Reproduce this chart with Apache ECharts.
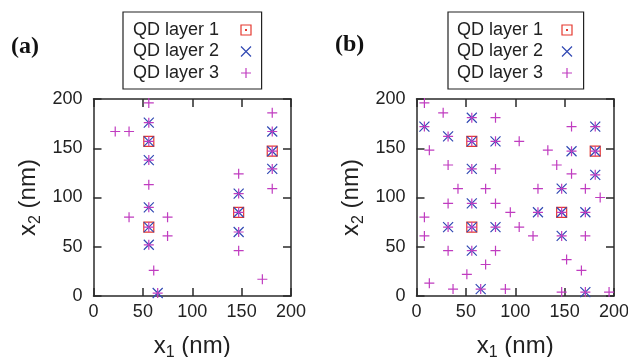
<!DOCTYPE html>
<html>
<head>
<meta charset="utf-8">
<script src="https://cdn.jsdelivr.net/npm/echarts@6/dist/echarts.min.js"></script>
<style>
  html, body { margin: 0; padding: 0; background: #fff; }
  #main { width: 628px; height: 357px; }
</style>
</head>
<body>
<div id="main"></div>
<script>
// tick labels (same on both axes of both panels)
var tickValues = [0, 50, 100, 150, 200];
var seriesNames = ["QD layer 1", "QD layer 2", "QD layer 3"];
var panelLabels = ["(a)", "(b)"];

// panel (a)
var layer1A = [[56, 157], [56, 70], [147, 85], [181, 147]];
var layer2A = [
  [56, 176], [56, 157], [56, 138], [56, 90], [56, 70], [56, 52], [65, 3],
  [147, 104], [147, 85], [147, 65], [181, 167], [181, 147], [181, 129]
];
var layer3A = [
  [56, 196], [22, 167], [36, 167], [56, 176], [56, 157], [56, 138], [56, 113],
  [56, 90], [36, 80], [75, 80], [56, 70], [75, 61], [56, 52], [61, 26], [65, 3],
  [147, 124], [147, 104], [147, 85], [147, 65], [147, 46], [171, 17],
  [181, 186], [181, 167], [181, 147], [181, 129], [181, 109]
];

// panel (b)
var layer1B = [[56, 157], [56, 70], [147, 85], [181, 147]];
var layer2B = [
  [56, 181], [8, 172], [32, 162], [56, 157], [80, 157], [56, 129], [56, 94],
  [32, 70], [56, 70], [80, 70], [56, 46], [65, 7], [181, 172], [157, 147],
  [181, 147], [181, 123], [147, 109], [123, 85], [147, 85], [171, 85], [147, 61], [171, 4]
];
var layer3B = [
  [56, 181], [8, 172], [32, 162], [56, 157], [80, 157], [56, 129], [56, 94],
  [32, 70], [56, 70], [80, 70], [56, 46], [65, 7], [181, 172], [157, 147],
  [181, 147], [181, 123], [147, 109], [123, 85], [147, 85], [171, 85], [147, 61], [171, 4],
  [8, 196], [27, 186], [80, 181], [157, 172], [104, 157], [13, 148], [133, 148],
  [32, 133], [80, 129], [142, 133], [157, 124], [42, 109], [70, 109], [123, 109],
  [171, 109], [186, 100], [32, 94], [80, 94], [95, 85], [8, 80], [104, 70], [8, 61],
  [118, 61], [171, 61], [32, 46], [80, 46], [152, 37], [70, 32], [167, 26], [51, 22],
  [13, 13], [37, 7], [90, 7], [147, 4], [195, 4]
];

var panelData = [[layer1A, layer2A, layer3A], [layer1B, layer2B, layer3B]];

var FONT = "'Liberation Sans', Arial, Helvetica, sans-serif";
var colors = ["#e5392f", "#3149b3", "#c03cc0"];
var symbols = [
  "path://M0,0H10V10H0ZM4.6,4.6H5.4V5.4H4.6Z",
  "path://M0,0L10,10M10,0L0,10",
  "path://M5,0V10M0,5H10"
];
var gridLefts = [93.5, 416.5];
var legendLefts = [123, 448];
var legendTextWidths = [103, 100];
var legendPads = [[9, 10, 7, 10], [9, 11, 7, 9]];
var labelPos = [[11, 35], [335, 33]];

var axisMin = tickValues[0];
var axisMax = tickValues[tickValues.length - 1];
var axisStep = tickValues[1] - tickValues[0];

function nameStyle() {
  return {
    color: "#222",
    fontFamily: FONT,
    rich: {
      a: { fontSize: 24, lineHeight: 30, fontFamily: FONT, color: "#222" },
      s: { fontSize: 16, lineHeight: 16, verticalAlign: "bottom", fontFamily: FONT, color: "#222" }
    }
  };
}

function makeAxis(grid, position, withLabels, name, nameGap) {
  var vertical = position === "left" || position === "right";
  var ax = {
    type: "value",
    gridIndex: grid,
    position: position,
    min: axisMin,
    max: axisMax,
    interval: axisStep,
    axisLine: { show: true, onZero: false, lineStyle: { color: "#2a2a2a", width: 1.5 } },
    axisTick: { show: true, inside: true, length: 8, lineStyle: { color: "#2a2a2a", width: 1.5 } },
    splitLine: { show: false },
    axisPointer: { show: false },
    axisLabel: {
      show: withLabels,
      margin: vertical ? 11 : 7,
      fontSize: 18,
      fontFamily: FONT,
      color: "#222"
    }
  };
  if (name) {
    ax.name = name;
    ax.nameLocation = "middle";
    ax.nameGap = nameGap;
    ax.nameTextStyle = nameStyle();
  }
  return ax;
}

var chart = echarts.init(document.getElementById("main"), null, { renderer: "canvas" });

var grids = [], xAxes = [], yAxes = [], series = [], legends = [], titles = [];
for (var p = 0; p < 2; p++) {
  grids.push({ left: gridLefts[p], top: 99, width: 197.5, height: 197, outerBoundsMode: "none", containLabel: false });
  xAxes.push(makeAxis(p, "bottom", true, "{a|x}{s|1}{a| (nm)}", 35));
  xAxes.push(makeAxis(p, "top", false));
  yAxes.push(makeAxis(p, "left", true, "{a|x}{s|2}{a| (nm)}", 50));
  yAxes.push(makeAxis(p, "right", false));
  for (var k = 0; k < 3; k++) {
    series.push({
      name: seriesNames[k],
      type: "scatter",
      xAxisIndex: p * 2,
      yAxisIndex: p * 2,
      symbol: symbols[k],
      symbolSize: 10,
      data: panelData[p][k],
      itemStyle: { color: "rgba(0,0,0,0)", borderColor: colors[k], borderWidth: 1.2, opacity: 1 },
      emphasis: { disabled: true },
      z: 3 + k
    });
  }
  legends.push({
    data: seriesNames,
    orient: "vertical",
    align: "right",
    left: legendLefts[p],
    top: 12,
    padding: legendPads[p],
    itemGap: 3.5,
    itemWidth: 10,
    itemHeight: 10,
    borderColor: "#222",
    borderWidth: 1.2,
    backgroundColor: "#fff",
    selectedMode: false,
    itemStyle: { borderWidth: 1.2 },
    formatter: "{t|{name}}",
    textStyle: {
      fontFamily: FONT,
      fontSize: 18,
      color: "#222",
      rich: { t: { width: legendTextWidths[p], align: "left", fontSize: 18, fontFamily: FONT, color: "#222" } }
    }
  });
  titles.push({
    text: panelLabels[p],
    left: labelPos[p][0],
    top: labelPos[p][1],
    padding: 0,
    textStyle: { fontFamily: "'Liberation Serif', 'Times New Roman', serif", fontWeight: "bold", fontSize: 24, color: "#111" }
  });
}

chart.setOption({
  animation: false,
  backgroundColor: "#fff",
  title: titles,
  legend: legends,
  grid: grids,
  xAxis: xAxes,
  yAxis: yAxes,
  series: series
});
</script>
</body>
</html>
